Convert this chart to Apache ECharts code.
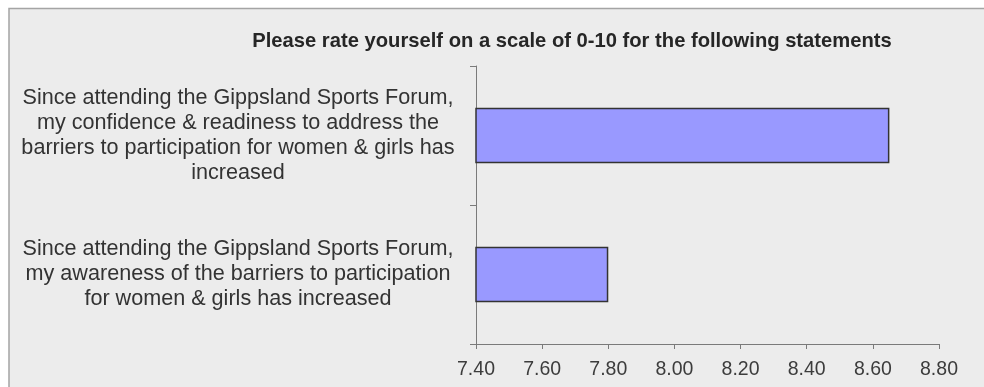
<!DOCTYPE html>
<html>
<head>
<meta charset="utf-8">
<script src="https://cdn.jsdelivr.net/npm/echarts@6/dist/echarts.min.js"></script>
<style>
html,body{margin:0;padding:0;background:#ffffff;}
#chart{width:984px;height:387px;}
</style>
</head>
<body>
<div id="chart"></div>
<script>
const titleText = "Please rate yourself on a scale of 0-10 for the following statements";
const categories = [
  "Since attending the Gippsland Sports Forum,\nmy confidence & readiness to address the\nbarriers to participation for women & girls has\nincreased",
  "Since attending the Gippsland Sports Forum,\nmy awareness of the barriers to participation\nfor women & girls has increased"
];
const ratings = [8.65, 7.80];
const axisMin = 7.40;
const axisMax = 8.80;
const axisStep = 0.20;

const chart = echarts.init(document.getElementById('chart'), null, {renderer: 'canvas'});
chart.setOption({
  backgroundColor: '#ffffff',
  animation: false,
  graphic: [{
    type: 'rect',
    z: -10,
    silent: true,
    shape: {x: 9, y: 8.5, width: 1000, height: 400},
    style: {fill: '#ececec', stroke: '#a4a4a4', lineWidth: 1.5}
  }],
  title: {
    text: titleText,
    left: 567,
    top: 26,
    textAlign: 'center',
    textStyle: {
      fontFamily: '"Liberation Sans", Arial, sans-serif',
      fontWeight: 'bold',
      fontSize: 20.2,
      color: '#262626'
    }
  },
  grid: {left: 476, right: 45, top: 66, bottom: 43, containLabel: false},
  xAxis: {
    type: 'value',
    min: axisMin,
    max: axisMax,
    interval: axisStep,
    axisLine: {show: true, lineStyle: {color: '#7a7a7a', width: 1}},
    axisTick: {show: true, length: 5, lineStyle: {color: '#7a7a7a'}},
    splitLine: {show: false},
    axisLabel: {
      margin: 16,
      color: '#3c3c3c',
      fontFamily: '"Liberation Sans", Arial, sans-serif',
      fontSize: 19.5,
      formatter: v => v.toFixed(2)
    }
  },
  yAxis: {
    type: 'category',
    data: categories,
    inverse: true,
    axisLine: {show: true, lineStyle: {color: '#7a7a7a', width: 1}},
    axisTick: {show: true, length: 6, lineStyle: {color: '#7a7a7a'}},
    axisLabel: {
      margin: 238,
      align: 'center',
      color: '#333333',
      lineHeight: 25,
      fontFamily: '"Liberation Sans", Arial, sans-serif',
      fontSize: 21.6
    }
  },
  series: [{
    type: 'bar',
    data: ratings,
    barWidth: '40%',
    itemStyle: {color: '#9999ff', borderColor: '#333333', borderWidth: 1.5}
  }]
});
</script>
</body>
</html>
